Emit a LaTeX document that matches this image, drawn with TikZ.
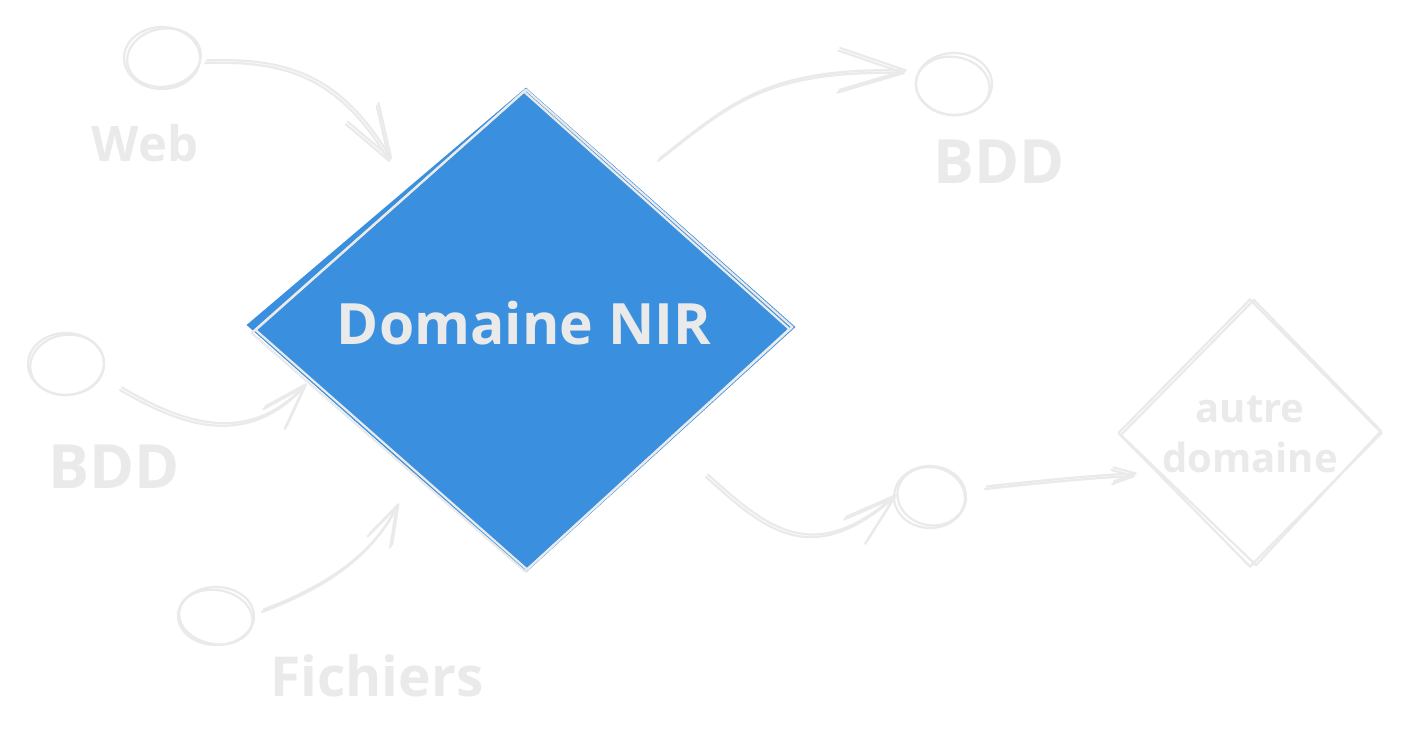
\documentclass[tikz,border=0pt]{standalone}
\usepackage{fontspec}
\setmainfont{Open Sans}
\usetikzlibrary{shapes.geometric,arrows.meta,calc}
\definecolor{skg}{HTML}{EAEAEA}
\definecolor{nirblue}{HTML}{3A90DE}
\begin{document}
\begin{tikzpicture}[x=0.5pt,y=-0.5pt,
  line cap=round, line join=round,
  sk/.style={draw=skg, line width=1.1pt},
  circ/.style={ellipse, sk, minimum width=38pt, minimum height=31pt, inner sep=0pt},
  lbl/.style={text=skg, inner sep=0pt},
  con/.style 2 args={sk, -{Straight Barb[length=#1, width=#2, round]}},
  dup/.style={transform canvas={shift={(0.9pt,1.3pt)}}},
  bigd/.style={diamond, minimum width=274pt, minimum height=242pt, inner sep=0pt},
  smalld/.style={diamond, sk, minimum width=132pt, minimum height=134pt, inner sep=0pt}]
\useasboundingbox (0,0) rectangle (1410,745);
\fill[white] (0,0) rectangle (1410,745);

% main diamond
\node[bigd] (nir) at (521,330) {};
\fill[nirblue] ($(nir.north)+(5,0)$) -- ($(nir.east)+(0,-3)$) -- ($(nir.south)+(5,0)$) -- ($(nir.west)+(0,-5)$) -- cycle;
\draw[sk] ($(nir.north)+(5,2)$) -- ($(nir.east)+(-3,-3)$) -- ($(nir.south)+(6,-3)$) -- ($(nir.west)+(9,0)$) -- cycle;
\draw[sk] ($(nir.north)+(3,4)$) -- ($(nir.east)+(-6,-1)$) -- ($(nir.south)+(4,-1)$) -- ($(nir.west)+(5,3)$) -- cycle;
\node[lbl, font=\bfseries\fontsize{28.5pt}{34pt}\selectfont] (nirT) at (524,323) {Domaine NIR};

% other diamond
\node[smalld] (aut) at (1250,433) {};
\draw[sk] ($(aut.north)+(4,2)$) -- ($(aut.east)+(-2,-2)$) -- ($(aut.south)+(6,-3)$) -- ($(aut.west)+(4,2)$) -- cycle;
\node[lbl, font=\bfseries\fontsize{20pt}{25pt}\selectfont, align=center] (autT) at (1250,434) {autre\\domaine};

% circles
\node[circ] (cWeb) at (162,58) {};
\draw[sk, rotate around={10:(cWeb.center)}] ([shift={(2,0)}]cWeb.center) ellipse [x radius=37, y radius=29];
\node[circ] (cTR) at (954,84) {};
\draw[sk, rotate around={-8:(cTR.center)}] ([shift={(-1,2)}]cTR.center) ellipse [x radius=37, y radius=29];
\node[circ] (cLB) at (66,364) {};
\draw[sk, rotate around={8:(cLB.center)}] ([shift={(1,1)}]cLB.center) ellipse [x radius=37, y radius=30];
\node[circ, minimum height=29pt] (cF) at (216,616) {};
\draw[sk, rotate around={-10:(cF.center)}] ([shift={(0,1)}]cF.center) ellipse [x radius=37, y radius=27];
\node[circ, minimum width=36pt] (cBR) at (930,497) {};
\draw[sk, rotate around={-12:(cBR.center)}] ([shift={(1,-1)}]cBR.center) ellipse [x radius=34, y radius=29];

% labels
\node[lbl, font=\bfseries\fontsize{24.5pt}{30pt}\selectfont] (lWeb) at (145,143) {Web};
\node[lbl, font=\bfseries\fontsize{30.5pt}{36pt}\selectfont] (lTR) at (999,162) {BDD};
\node[lbl, font=\bfseries\fontsize{30.5pt}{36pt}\selectfont] (lLB) at (114,467) {BDD};
\node[lbl, font=\bfseries\fontsize{27.5pt}{34pt}\selectfont] (lF) at (377,676) {Fichiers};

% connector end points
\coordinate (wS) at (205,63);   \coordinate (wE) at (390,162);
\coordinate (tS) at (658,161);  \coordinate (tE) at (905,73);
\coordinate (bS) at (120,390);  \coordinate (bE) at (305,386);
\coordinate (fS) at (262,612);  \coordinate (fE) at (397,506);
\coordinate (rS) at (706,477);  \coordinate (rE) at (895,497);
\coordinate (aS) at (985,489);  \coordinate (aE) at (1135,476);

% connectors
\draw[con={27pt}{18pt}] (wS) .. controls (290,60) and (340,80) .. (wE);
\draw[con={27pt}{18pt}, dup] (wS) .. controls (290,60) and (340,80) .. (wE);

\draw[con={33pt}{21pt}] (tS) .. controls (730,105) and (765,70) .. (tE);
\draw[con={33pt}{21pt}, dup] (tS) .. controls (730,105) and (765,70) .. (tE);

\draw[con={22pt}{14.5pt}] (bS) .. controls (180,425) and (245,450) .. (bE);
\draw[con={22pt}{14.5pt}, dup] (bS) .. controls (180,425) and (245,450) .. (bE);

\draw[con={19.5pt}{12.5pt}] (fS) .. controls (320,590) and (370,560) .. (fE);
\draw[con={19.5pt}{12.5pt}, dup] (fS) .. controls (320,590) and (370,560) .. (fE);

\draw[con={26pt}{16pt}] (rS) .. controls (765,530) and (810,570) .. (rE);
\draw[con={26pt}{16pt}, dup] (rS) .. controls (765,530) and (810,570) .. (rE);

\draw[con={11pt}{7pt}] (aS) .. controls (1040,483) and (1090,478) .. (aE);
\draw[con={11pt}{7pt}, dup] (aS) .. controls (1040,483) and (1090,478) .. (aE);
\end{tikzpicture}
\end{document}
